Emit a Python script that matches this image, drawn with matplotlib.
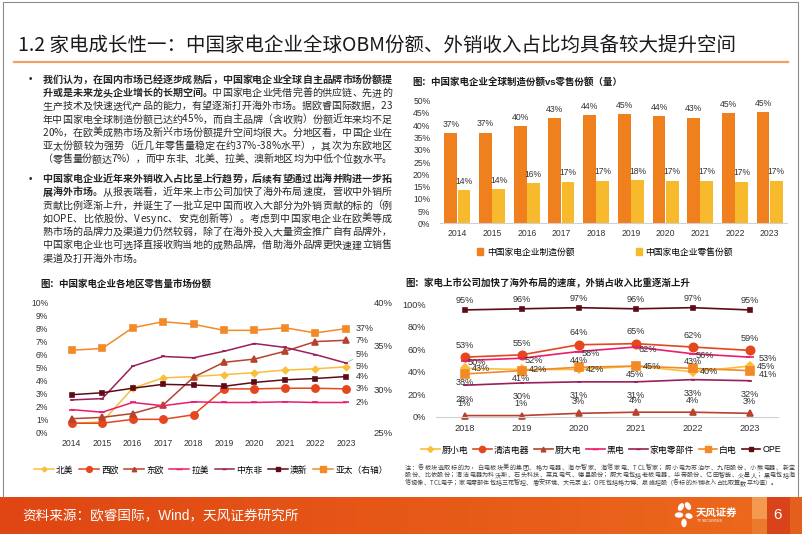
import numpy as np
import matplotlib.pyplot as plt
from matplotlib.lines import Line2D
from matplotlib.patches import Patch, Rectangle, Ellipse
from matplotlib.colors import LinearSegmentedColormap
from matplotlib.font_manager import FontProperties

plt.rcParams['font.family'] = ['Liberation Sans', 'Noto Sans CJK SC']
plt.rcParams['axes.unicode_minus'] = False

# === MARK: data
# top right: manufacturing share vs retail share (volume), %
bar_years = ['2014', '2015', '2016', '2017', '2018', '2019', '2020', '2021', '2022', '2023']
mfg_share = [36.7, 37.0, 39.8, 43.0, 44.3, 44.6, 43.7, 43.1, 45.0, 45.3]
retail_share = [13.6, 13.9, 16.3, 17.0, 17.4, 17.6, 17.4, 17.4, 17.0, 17.4]

# bottom left: retail volume share by region, % (asia pacific on right axis)
north_america = [0.7, 0.8, 3.4, 4.2, 4.3, 4.45, 4.6, 4.8, 4.9, 5.05]
west_europe = [0.7, 0.7, 1.0, 1.0, 1.35, 3.35, 3.35, 3.4, 3.4, 3.35]
east_europe = [1.05, 1.15, 1.45, 2.1, 4.25, 5.4, 5.65, 6.25, 7.0, 7.1]
latam = [1.75, 1.55, 2.3, 2.05, 2.35, 2.3, 2.3, 2.35, 2.3, 2.3]
mea = [2.5, 2.6, 5.1, 5.85, 5.75, 6.25, 6.85, 6.55, 6.0, 5.35]
anz = [2.9, 3.05, 3.4, 3.7, 3.65, 3.55, 3.85, 4.05, 4.15, 4.3]
asia_pacific = [34.5, 34.7, 37.1, 37.8, 37.5, 36.8, 36.8, 37.1, 36.5, 37.0]

# bottom right: overseas revenue share of listed companies, %
listed_years = ['2018', '2019', '2020', '2021', '2022', '2023']
small_kitchen = [43, 42, 42, 45, 40, 45]
cleaning = [53, 55, 64, 65, 62, 59]
big_kitchen = [1, 1, 3, 4, 4, 3]
black_goods = [50, 52, 58, 62, 56, 53]
components = [28, 30, 31, 31, 33, 32]
white_goods = [38, 41, 44, 45, 43, 41]
ope = [95, 96, 97, 96, 97, 95]

# === MARK: colours
C_YEL = '#F9BF3B'
C_RED = '#E4471E'
C_BRN = '#B5432E'
C_PNK = '#EC1C6E'
C_PUR = '#9B1F58'
C_ORG = '#F28A28'
C_MAR = '#5E0B17'
TXT = '#333333'

W, H = 802, 534
fig = plt.figure(figsize=(W / 100, H / 100), dpi=100)
ax0 = fig.add_axes([0, 0, 1, 1])
ax0.axis('off')


def box(l, t, r, b):
    return [l / W, 1 - b / H, (r - l) / W, (b - t) / H]


# === MARK: slide frame, title, footer
ax0.plot([2.5, 2.5, 798, 798], [497, 1.5, 1.5, 497], color='#8C8C8C', lw=0.8)
ax0.text(18, 45, '1.2 家电成长性一：中国家电企业全球OBM份额、外销收入占比均具备较大提升空间',
         fontsize=14, color='#1A1A1A', va='center', ha='left', family=['Noto Sans CJK SC'])
ax0.plot([14, 788], [61.5, 61.5], color='#F0A060', lw=1.6)

grad = np.linspace(0, 1, 256).reshape(1, -1)
cmap = LinearSegmentedColormap.from_list('foot', ['#DF4613', '#E65818', '#EC6A1D'])
ax0.imshow(grad, cmap=cmap, extent=[0, W, 534, 497], aspect='auto', zorder=1)
ax0.add_patch(Rectangle((752, 497), 15, 22, color='#F39A50', zorder=2, lw=0))
ax0.add_patch(Rectangle((752, 519), 15, 15, color='#EC7A2C', zorder=2, lw=0))
ax0.add_patch(Rectangle((767, 497), 23, 37, color='#D8431A', zorder=2, lw=0))
ax0.add_patch(Rectangle((790, 497), 12, 37, color='#E45E1C', zorder=2, lw=0))
ax0.set_xlim(0, W)
ax0.set_ylim(H, 0)
ax0.text(22, 516, '资料来源：欧睿国际，Wind，天风证券研究所', fontsize=9.8, color='white',
         va='center', ha='left', zorder=3)
ax0.text(777, 515, '6', fontsize=11, color='white', va='center', ha='center', zorder=3)
for (ex, ey, ew, eh, ang) in [(681, 507, 4, 7, 30), (688, 506, 4, 7, -30), (679, 515, 7, 4, 0),
                              (689, 516, 6, 4, 20), (684, 523, 4, 7, 0)]:
    ax0.add_patch(Ellipse((ex, ey), ew, eh, angle=ang, color='white', zorder=3))
ax0.text(696, 513, '天风证券', fontsize=7.5, color='white', weight='bold', va='center',
         ha='left', zorder=3, family=['Noto Sans CJK SC'])
ax0.text(697, 521.5, 'TF SECURITIES', fontsize=2.4, color='white', va='center', ha='left', zorder=3)

# === MARK: body text (justified, char by char)
renderer = fig.canvas.get_renderer()
_cache = {}


def advance(ch, fp):
    key = (ch, fp.get_weight(), fp.get_size())
    if key not in _cache:
        w1 = renderer.get_text_width_height_descent('中' + ch + '中', fp, False)[0]
        w0 = renderer.get_text_width_height_descent('中中', fp, False)[0]
        _cache[key] = w1 - w0
    return _cache[key]


def draw_line(segments, x0, y, right, size, justify, color='#262626'):
    fp_r = FontProperties(family='Noto Sans CJK SC', size=size)
    fp_b = FontProperties(family='Noto Sans CJK SC', size=size, weight='bold')
    chars = []
    for s, bold in segments:
        fp = fp_b if bold else fp_r
        for ch in s:
            chars.append((ch, fp, advance(ch, fp)))
    natural = sum(c[2] for c in chars)
    gap = (right - x0 - natural) / (len(chars) - 1) if justify else 0
    x = x0
    for ch, fp, w in chars:
        ax0.text(x, y, ch, fontproperties=fp, ha='left', va='baseline', color=color)
        x += w + gap


para1 = [
    [('我们认为，在国内市场已经逐步成熟后，中国家电企业全球自主品牌市场份额提', True)],
    [('升或是未来龙头企业增长的长期空间。', True), ('中国家电企业凭借完善的供应链、先进的', False)],
    [('生产技术及快速迭代产品的能力，有望逐渐打开海外市场。据欧睿国际数据，23', False)],
    [('年中国家电全球制造份额已达约45%，而自主品牌（含收购）份额近年来均不足', False)],
    [('20%，在欧美成熟市场及新兴市场份额提升空间均很大。分地区看，中国企业在', False)],
    [('亚太份额较为强势（近几年零售量稳定在约37%-38%水平），其次为东欧地区', False)],
    [('（零售量份额达7%），而中东非、北美、拉美、澳新地区均为中低个位数水平。', False)],
]
para2 = [
    [('中国家电企业近年来外销收入占比呈上行趋势，后续有望通过出海并购进一步拓', True)],
    [('展海外市场。', True), ('从报表端看，近年来上市公司加快了海外布局速度，营收中外销所', False)],
    [('贡献比例逐渐上升，并诞生了一批立足中国而收入大部分为外销贡献的标的（例', False)],
    [('如OPE、比依股份、Vesync、安克创新等）。考虑到中国家电企业在欧美等成', False)],
    [('熟市场的品牌力及渠道力仍然较弱，除了在海外投入大量资金推广自有品牌外，', False)],
    [('中国家电企业也可选择直接收购当地的成熟品牌，借助海外品牌更快速建立销售', False)],
    [('渠道及打开海外市场。', False)],
]
for para, y_top in ((para1, 79.0), (para2, 178.3)):
    ax0.text(30, y_top + 3.5, '•', fontsize=7, ha='center', va='baseline', color='#262626')
    for i, line in enumerate(para):
        last = (i == len(para) - 1) and para is para2
        draw_line(line, 42.5, y_top + 13.3 * i + 3.6, 392, 7.2, not last)

notes = [
    '注：各板块选取标的为，白电板块美的集团、格力电器、海尔智家、海信家电、TCL智家；厨小电为苏泊尔、九阳股份、小熊电器、新宝',
    '股份、比依股份；清洁电器为科沃斯、石头科技、莱克电气、德昌股份；厨大电包括老板电器、华帝股份、亿田智能、火星人；黑电包括海',
    '信视像、TCL电子；家电零部件包括三花智控、盾安环境、大元泵业；OPE包括格力博、泉峰控股（各标的外销收入占比取算数平均值）。',
]
for i, line in enumerate(notes):
    draw_line([(line, False)], 405, 469.5 + 7.6 * i, 795, 4.4, i < 2, color='#404040')

# === MARK: chart titles
ax0.text(412, 82, '图：中国家电企业全球制造份额vs零售份额（量）', fontsize=6.8, weight='bold',
         color='#1A1A1A', va='center', ha='left')
ax0.text(40, 284, '图：中国家电企业各地区零售量市场份额', fontsize=6.8, weight='bold',
         color='#1A1A1A', va='center', ha='left')
ax0.text(405, 283.5, '图：家电上市公司加快了海外布局的速度，外销占收入比重逐渐上升', fontsize=6.8,
         weight='bold', color='#1A1A1A', va='center', ha='left')


def style_axes(ax, bottom_line=True):
    for side in ('top', 'right', 'left'):
        ax.spines[side].set_visible(False)
    ax.spines['bottom'].set_visible(bottom_line)
    ax.spines['bottom'].set_color('#D0D0D0')
    ax.tick_params(length=0, labelsize=6.2, colors=TXT)
    ax.set_facecolor('none')


# === MARK: bar chart (top right)
ax1 = fig.add_axes(box(440, 100.7, 787, 223.3))
x = np.arange(len(bar_years))
b1 = ax1.bar(x - 0.19, mfg_share, 0.37, color='#F0801E')
b2 = ax1.bar(x + 0.19, retail_share, 0.37, color='#F7BA2C')
ax1.bar_label(b1, labels=[f'{round(v)}%' for v in mfg_share], padding=3, fontsize=6.2, color=TXT)
ax1.bar_label(b2, labels=[f'{round(v)}%' for v in retail_share], padding=3, fontsize=6.2, color=TXT)
ax1.set_xlim(-0.5, len(bar_years) - 0.5)
ax1.set_ylim(0, 50)
ax1.set_yticks(range(0, 51, 5))
ax1.set_yticklabels([f'{v}%' for v in range(0, 51, 5)])
ax1.set_xticks(x)
ax1.set_xticklabels(bar_years)
style_axes(ax1)
ax1.tick_params(axis='y', pad=7)
ax1.tick_params(axis='x', pad=4)
fig.legend([Patch(color='#F0801E'), Patch(color='#F7BA2C')],
           ['中国家电企业制造份额', '中国家电企业零售份额'],
           loc='center', bbox_to_anchor=(605 / W, 1 - 252 / H), ncol=2, frameon=False,
           fontsize=6.3, handlelength=0.7, handleheight=0.7, handletextpad=0.4,
           columnspacing=7.0, borderaxespad=0)

# === MARK: region line chart (bottom left)
ax2 = fig.add_axes(box(56.5, 302.7, 361, 432.3))
ax2r = ax2.twinx()
xr = np.arange(len(bar_years))
region_series = [
    (north_america, '北美', C_YEL, 'D', 3.2, ax2),
    (west_europe, '西欧', C_RED, 'o', 5.2, ax2),
    (east_europe, '东欧', C_BRN, '^', 4.0, ax2),
    (latam, '拉美', C_PNK, '_', 5.0, ax2),
    (mea, '中东非', C_PUR, '_', 3.5, ax2),
    (anz, '澳新', C_MAR, 's', 3.3, ax2),
    (asia_pacific, '亚太（右轴）', C_ORG, 's', 5.0, ax2r),
]
handles = []
for vals, name, col, mk, ms, ax in region_series:
    ax.plot(xr, vals, color=col, marker=mk, ms=ms, lw=1.1, mew=1.2, clip_on=False)
    handles.append(Line2D([], [], color=col, marker=mk, ms=ms * 0.8, lw=1.1, mew=1.0))
ax2.set_xlim(-0.5, len(bar_years) - 0.5)
ax2.set_ylim(0, 10)
ax2.set_yticks(range(0, 11))
ax2.set_yticklabels([f'{v}%' for v in range(0, 11)])
ax2.set_xticks(xr)
ax2.set_xticklabels(bar_years)
ax2r.set_ylim(25, 40)
ax2r.set_yticks([25, 30, 35, 40])
ax2r.set_yticklabels(['25%', '30%', '35%', '40%'])
style_axes(ax2, bottom_line=False)
style_axes(ax2r, bottom_line=False)
ax2.tick_params(axis='y', pad=6)
ax2.tick_params(axis='x', pad=5)
ax2r.tick_params(axis='y', pad=9, labelsize=6.8)
# end-of-line labels
end_offsets = {'北美': 0, '西欧': 0, '东欧': 0, '拉美': 0, '中东非': 6, '澳新': 0, '亚太（右轴）': 0}
for vals, name, col, mk, ms, ax in region_series:
    dy = end_offsets[name]
    arrow = dict(arrowstyle='-', color='#A0A0A0', lw=0.5, shrinkA=0, shrinkB=2) if dy else None
    ax.annotate(f'{round(vals[-1])}%', xy=(xr[-1], vals[-1]), xytext=(7, dy),
                textcoords='offset points', ha='left', va='center', fontsize=6.4, color=TXT,
                arrowprops=arrow, annotation_clip=False)
fig.legend(handles, [s[1] for s in region_series], loc='center',
           bbox_to_anchor=(211 / W, 1 - 470 / H), ncol=7, frameon=False, fontsize=6.3,
           handlelength=2.2, handletextpad=0.3, columnspacing=0.65, borderaxespad=0)

# === MARK: listed companies line chart (bottom right)
ax3 = fig.add_axes(box(436, 304.3, 778, 416.7))
xl = np.arange(len(listed_years))
listed_series = [
    (small_kitchen, '厨小电', C_YEL, 'D', 4.0),
    (cleaning, '清洁电器', C_RED, 'o', 6.0),
    (big_kitchen, '厨大电', C_BRN, '^', 4.5),
    (black_goods, '黑电', C_PNK, '_', 5.5),
    (components, '家电零部件', C_PUR, '_', 3.5),
    (white_goods, '白电', C_ORG, 's', 5.5),
    (ope, 'OPE', C_MAR, 's', 3.5),
]
handles = []
for vals, name, col, mk, ms in listed_series:
    ax3.plot(xl, vals, color=col, marker=mk, ms=ms, lw=1.2, mew=1.2, clip_on=False)
    handles.append(Line2D([], [], color=col, marker=mk, ms=ms * 0.75, lw=1.2, mew=1.0))

label_offsets = {
    '厨小电': [(12, 0)] * 6,
    '清洁电器': [(0, 8.5)] * 6,
    '厨大电': [(0, 8.5)] * 6,
    '黑电': [(9, -1.5)] * 5 + [(13, -1)],
    '家电零部件': [(0, -10)] * 6,
    '白电': [(0, -6), (0, -6), (0, 5), (0, -6), (0, 5), (13, -3)],
    'OPE': [(0, 6.5)] * 6,
}
for vals, name, col, mk, ms in listed_series:
    for i, v in enumerate(vals):
        ax3.annotate(f'{v}%', xy=(xl[i], v), xytext=label_offsets[name][i],
                     textcoords='offset points', ha='center', va='center', fontsize=6.6,
                     color=TXT, annotation_clip=False)
ax3.set_xlim(-0.5, len(listed_years) - 0.5)
ax3.set_ylim(0, 100)
ax3.set_yticks(range(0, 101, 20))
ax3.set_yticklabels([f'{v}%' for v in range(0, 101, 20)])
ax3.set_xticks(xl)
ax3.set_xticklabels(listed_years)
style_axes(ax3)
ax3.tick_params(labelsize=6.6)
ax3.tick_params(axis='y', pad=7)
ax3.tick_params(axis='x', pad=5)
fig.legend(handles, [s[1] for s in listed_series], loc='center',
           bbox_to_anchor=(601 / W, 1 - 450 / H), ncol=7, frameon=False, fontsize=6.4,
           handlelength=2.1, handletextpad=0.2, columnspacing=0.55, borderaxespad=0)

fig.savefig('out.png', dpi=100)
